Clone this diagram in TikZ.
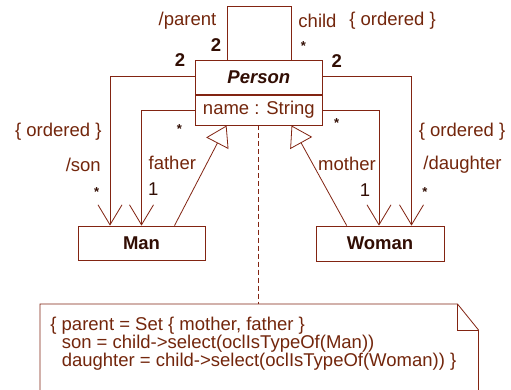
\documentclass[tikz,border=0pt]{standalone}
\usepackage{fontspec}
\setmainfont{Liberation Sans}
\usetikzlibrary{arrows.meta}
\definecolor{umlline}{RGB}{130,36,18}
\definecolor{umltext}{RGB}{115,38,12}
\definecolor{umldark}{RGB}{50,14,4}
\begin{document}
\begin{tikzpicture}[x=1pt,y=-1pt,line width=0.8pt,
  font=\fontsize{18.5}{18.5}\selectfont,
  classbox/.style={draw=umlline,rectangle,inner sep=0pt,text=umldark,
    font=\fontsize{18.5}{18.5}\selectfont\bfseries},
  lbl/.style={text=umltext,inner sep=0pt},
  mult/.style={text=umldark,inner sep=0pt,font=\fontsize{18.5}{18.5}\selectfont\bfseries},
  one/.style={text=umldark,inner sep=0pt},
  star/.style={text=umldark,inner sep=0pt,font=\fontsize{13}{13}\selectfont\bfseries},
  assoc/.style={draw=umlline,-{Straight Barb[length=20pt,width=24pt]}},
  gener/.style={draw=umlline,-{Triangle[open,length=20pt,width=25pt,fill=white]}},
  edge/.style={draw=umlline},
]
\useasboundingbox (0,0) rectangle (511,390);
\clip (0,0) rectangle (511,390);
\fill[white] (0,0) rectangle (511,390);

% classes
\node[classbox,minimum width=127.7pt,minimum height=33.6pt,
  font=\fontsize{18.5}{18.5}\selectfont\bfseries\itshape] (person) at (258.85,77.5) {Person};
\node[classbox,minimum width=127.7pt,minimum height=30pt,anchor=north,
  font=\fontsize{18.5}{18.5}\selectfont,text=umltext] (attr) at (person.south) {name : String};
\node[classbox,minimum width=127pt,minimum height=34.7pt] (man) at (141.5,243.35) {Man};
\node[classbox,minimum width=128pt,minimum height=35pt] (woman) at (380,243.5) {Woman};

% note
\node[inner sep=0pt,minimum width=437.7pt,minimum height=100pt,anchor=north west] (note) at (40,304) {};
\draw[edge] (note.south west) -- (note.north west) -- ([xshift=-21pt]note.north east)
  -- ([yshift=-26pt]note.north east) -- (note.south east);
\draw[edge] ([xshift=-21pt]note.north east) |- ([yshift=-26pt]note.north east);
\node[anchor=north west,align=left,inner sep=0pt,text=umltext,
  font=\fontsize{18.5}{18}\selectfont] (notetext) at (50,317)
  {\{ parent = Set \{ mother, father \}\\
   \hspace{11.4pt}son = child->select(oclIsTypeOf(Man))\\
   \hspace{11.4pt}daughter = child->select(oclIsTypeOf(Woman)) \}};
\draw[edge,dash pattern=on 5pt off 3pt] (attr.south) -- (attr.south |- note.north);

% self association parent/child
\draw[edge] ([xshift=-31.5pt]person.north) -- ++(0,-53.4) -| ([xshift=32.2pt]person.north);

% derived associations son/daughter and father/mother
\draw[assoc] ([yshift=1.5pt]person.west) -| ([xshift=-31.5pt]man.north);
\draw[assoc] (attr.west) -| (man.north);
\draw[assoc] ([yshift=1.5pt]person.east) -| ([xshift=31.5pt]woman.north);
\draw[assoc] (attr.east) -| ([xshift=-1pt]woman.north);

% generalizations
\draw[gener] ([xshift=33pt]man.north) -- ([xshift=-32.3pt]attr.south);
\draw[gener] ([xshift=-33.3pt]woman.north) -- ([xshift=32.7pt]attr.south);

% role names and multiplicities
\node[lbl] (parentlbl) at (187.5,21) {/parent};
\node[mult] (m2loop) at (216,45.5) {2};
\node[lbl] (childlbl) at (317.5,21) {child};
\node[lbl] (ordtop) at (392.5,21) {\{ ordered \}};
\node[star] (sloop) at (303.3,46.5) {*};
\node[mult] (m2left) at (180,60) {2};
\node[mult] (m2right) at (336.7,60.7) {2};
\node[star] (sleft) at (179.3,129) {*};
\node[star] (sright) at (336.7,123.5) {*};
\node[lbl] (ordleft) at (58.3,131.7) {\{ ordered \}};
\node[lbl] (sonlbl) at (83.3,165) {/son};
\node[star] (sson) at (96.7,192.5) {*};
\node[lbl] (fatherlbl) at (172.3,163.3) {father};
\node[one] (m1father) at (153.3,189.3) {1};
\node[lbl] (motherlbl) at (347,164) {mother};
\node[one] (m1mother) at (365,190) {1};
\node[lbl] (ordright) at (462,131.7) {\{ ordered \}};
\node[lbl] (daughterlbl) at (462.5,165) {/daughter};
\node[star] (sdaughter) at (425,192.5) {*};
\end{tikzpicture}
\end{document}
